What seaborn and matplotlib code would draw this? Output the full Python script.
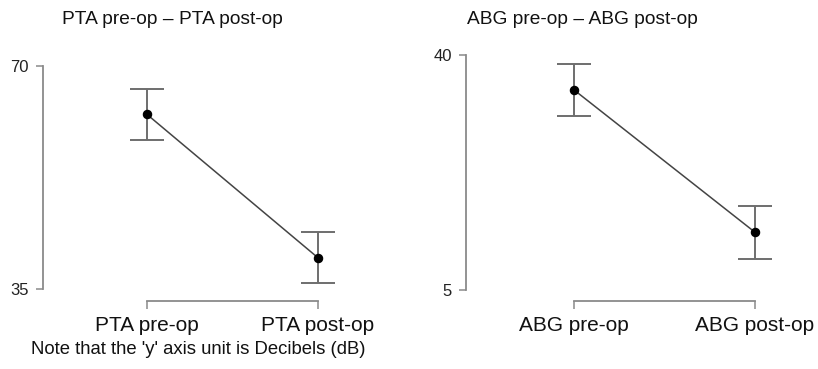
import numpy as np
import pandas as pd

import matplotlib
matplotlib.use('Agg')
import matplotlib.pyplot as plt
import seaborn as sns

# values (mean and half-width of the error bar, dB)
pta_labels = ['PTA pre-op', 'PTA post-op']
pta_mean = [62.4, 39.9]
pta_err = [4.0, 4.0]

abg_labels = ['ABG pre-op', 'ABG post-op']
abg_mean = [34.8, 13.6]
abg_err = [3.9, 3.95]

sns.set_theme(style='ticks')
plt.rcParams['font.family'] = ['Liberation Sans', 'DejaVu Sans']

fig = plt.figure(figsize=(8.18, 3.69), dpi=100)
W, H = 818, 369


def px_axes(left, top, right, bottom):
    return fig.add_axes([left / W, 1 - bottom / H, (right - left) / W, (bottom - top) / H])


def panel(ax, labels, mean, err, xlim, ylim, yticks):
    df = pd.DataFrame({'cond': labels, 'val': mean})
    ax.errorbar(np.arange(len(mean)), mean, yerr=err, fmt='none', ecolor='#6e6e6e',
                elinewidth=1.4, capsize=12.5, capthick=1.4, zorder=1)
    sns.pointplot(data=df, x='cond', y='val', ax=ax, color='#444444', markers='o',
                  linewidth=1.1, markersize=6, errorbar=None)
    for ln in ax.lines:
        if ln.get_marker() == 'o':
            ln.set_markerfacecolor('black')
            ln.set_markeredgecolor('black')
            ln.set_zorder(3)
    ax.set_xlim(*xlim)
    ax.set_ylim(*ylim)
    ax.set_yticks(yticks)
    ax.set_yticklabels([str(t) for t in yticks])
    ax.set_xlabel('')
    ax.set_ylabel('')
    for s in ['top', 'right']:
        ax.spines[s].set_visible(False)
    ax.spines['left'].set_bounds(yticks[0], yticks[-1])
    ax.spines['bottom'].set_bounds(0, 1)
    for s in ['left', 'bottom']:
        ax.spines[s].set_color('#8a8a8a')
        ax.spines[s].set_linewidth(1.3)
    ax.tick_params(axis='y', length=5, width=1.1, color='#8a8a8a', labelsize=12, pad=5,
                   labelcolor='#222222')
    ax.tick_params(axis='x', length=6, width=1.1, color='#8a8a8a', labelsize=15, pad=5,
                   labelcolor='#111111')
    ax.patch.set_alpha(0)


ax1 = px_axes(43, 66, 360, 301)
panel(ax1, pta_labels, pta_mean, pta_err,
      (-(147 - 43) / 171, -(147 - 43) / 171 + 317 / 171),
      (35 - 12 / 6.37, 70), [35, 70])

ax2 = px_axes(466, 55, 800, 301)
panel(ax2, abg_labels, abg_mean, abg_err,
      (-(574 - 466) / 181, -(574 - 466) / 181 + 334 / 181),
      (5 - 11 / 6.714, 40), [5, 40])

fig.text(62 / W, 1 - 20 / H, 'PTA pre-op \u2013 PTA post-op', fontsize=13.8,
         va='center', ha='left', color='#111111')
fig.text(467 / W, 1 - 20 / H, 'ABG pre-op \u2013 ABG post-op', fontsize=13.8,
         va='center', ha='left', color='#111111')
fig.text(31 / W, 1 - 349 / H, "Note that the 'y' axis unit is Decibels (dB)", fontsize=13.3,
         va='center', ha='left', color='#111111')

fig.savefig('out.png', dpi=100, facecolor='white')
